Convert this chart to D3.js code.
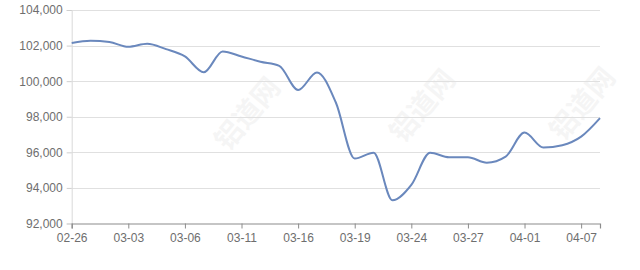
<!DOCTYPE html>
<html>
<head>
<meta charset="utf-8">
<script src="https://cdn.jsdelivr.net/npm/d3@7/dist/d3.min.js"></script>
<style>
  body { margin: 0; background: #fff; }
  svg { display: block; font-family: "Liberation Sans", Arial, sans-serif; }
  .grid line { stroke: #e0e0e0; }
  .tick text { fill: #6e6e6e; font-size: 12px; }
  .mark { fill: #000; opacity: 0.035; font-size: 28px; font-weight: bold; font-family: "Noto Sans CJK SC", sans-serif; }
</style>
</head>
<body>
<svg id="chart"></svg>
<script>
  //begin: data
  var dates = ["02-26","02-27","03-02","03-03","03-04","03-05","03-06","03-09","03-10","03-11",
               "03-12","03-13","03-16","03-17","03-18","03-19","03-20","03-23","03-24","03-25",
               "03-26","03-27","03-30","03-31","04-01","04-02","04-03","04-07","04-08"];
  var prices = [102150,102270,102200,101930,102100,101800,101390,100500,101670,101390,
                101090,100860,99500,100490,98800,95650,95980,93300,94170,95980,
                95720,95720,95420,95760,97110,96270,96400,96880,97920];
  var yTicks = [92000,94000,96000,98000,100000,102000,104000];
  var labelEvery = 3;
  //end: data

  //begin: layout conf.
  var svgWidth = 640,
      svgHeight = 270,
      margin = {top: 10, right: 40, bottom: 46.5, left: 71.7},
      width = svgWidth - margin.left - margin.right,
      height = svgHeight - margin.top - margin.bottom;
  //end: layout conf.

  var svg = d3.select("#chart")
    .attr("width", svgWidth)
    .attr("height", svgHeight);

  // faint watermarks
  var marks = [[255,120],[430,112],[590,110]];
  svg.append("g").selectAll("text")
    .data(marks)
    .enter().append("text")
      .classed("mark", true)
      .attr("text-anchor", "middle")
      .attr("transform", function(d){ return "translate("+d+") rotate(-50)"; })
      .text("铝道网");

  var g = svg.append("g")
    .attr("transform", "translate("+[margin.left, margin.top]+")");

  var x = d3.scalePoint().domain(dates).range([0, width]);
  var y = d3.scaleLinear().domain([92000, 104000]).range([height, 0]);

  // grid
  g.append("g")
    .classed("grid", true)
    .selectAll("line")
    .data(yTicks.slice(1))
    .enter().append("line")
      .attr("x1", 0).attr("x2", width)
      .attr("y1", function(d){ return Math.round(y(d)) + 0.5; })
      .attr("y2", function(d){ return Math.round(y(d)) + 0.5; });

  // y axis
  var yAxis = g.append("g")
    .call(d3.axisLeft(y).tickValues(yTicks).tickSize(5).tickPadding(4).tickFormat(d3.format(",")));
  yAxis.select(".domain").attr("stroke", "#d9d9d9");
  yAxis.selectAll(".tick line").attr("stroke", "#cfcfcf");

  // x axis
  var xAxis = g.append("g")
    .attr("transform", "translate(0,"+height+")")
    .call(d3.axisBottom(x)
      .tickValues(dates.filter(function(d,i){ return i % labelEvery === 0; }))
      .tickSize(5).tickPadding(5));
  xAxis.select(".domain").attr("stroke", "#8c8c8c").attr("stroke-width", 1.2);
  xAxis.selectAll(".tick line").attr("stroke", "#8c8c8c");

  // line
  var line = d3.line()
    .x(function(d,i){ return x(dates[i]); })
    .y(function(d){ return y(d); })
    .curve(d3.curveMonotoneX);

  g.append("path")
    .datum(prices)
    .attr("fill", "none")
    .attr("stroke", "#6a88bd")
    .attr("stroke-width", 2)
    .attr("stroke-linejoin", "round")
    .attr("d", line);
</script>
</body>
</html>
